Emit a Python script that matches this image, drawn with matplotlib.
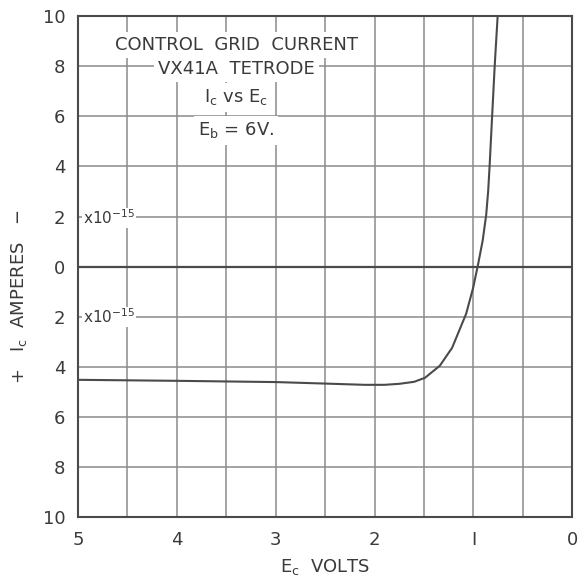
import numpy as np
import matplotlib.pyplot as plt

# grid voltage Ec (volts, axis runs 5 -> 0) and grid current Ic (units of 1e-15 A)
# plotted with "-" current upward, "+" current downward
ec_volts = [5.0, 4.0, 3.0, 2.5, 2.1, 1.9, 1.75, 1.6, 1.49, 1.34, 1.215, 1.073, 1.002, 0.951,
            0.906, 0.870, 0.850, 0.835, 0.810, 0.784, 0.754]
ic_units = [-4.52, -4.56, -4.61, -4.67, -4.72, -4.72, -4.68, -4.6, -4.44, -3.96, -3.24, -1.88,
            -0.84, 0.12, 1.04, 2.08, 3.04, 4.08, 6.04, 8.04, 10.04]

x_ticks = [5, 4, 3, 2, 1, 0]
x_tick_labels = ["5", "4", "3", "2", "I", "0"]
y_ticks = [10, 8, 6, 4, 2, 0, -2, -4, -6, -8, -10]
y_tick_labels = ["10", "8", "6", "4", "2", "0", "2", "4", "6", "8", "10"]

ink = "#3a3a3a"
grid_col = "#8a8a8a"

fig = plt.figure(figsize=(5.78, 5.79), dpi=100)
ax = fig.add_axes([0.135, 0.107, 0.855, 0.865])

ax.set_xlim(5, 0)
ax.set_ylim(-10, 10)

# graph paper grid: every 0.5 V and every 2 units
for xv in np.arange(0.5, 5.0, 0.5):
    ax.axvline(xv, color=grid_col, lw=1.1, zorder=1)
for yv in range(-8, 10, 2):
    if yv != 0:
        ax.axhline(yv, color=grid_col, lw=1.1, zorder=1)
ax.axhline(0, color="#4a4a4a", lw=1.6, zorder=2)

ax.plot(ec_volts, ic_units, color="#4a4a4a", lw=1.5, zorder=3)

for s in ax.spines.values():
    s.set_color("#4a4a4a")
    s.set_linewidth(1.5)
    s.set_zorder(5)

ax.set_xticks(x_ticks)
ax.set_xticklabels(x_tick_labels)
ax.set_yticks(y_ticks)
ax.set_yticklabels(y_tick_labels)
ax.tick_params(axis="both", length=0, labelsize=13, colors=ink)
ax.tick_params(axis="x", pad=10)
ax.tick_params(axis="y", pad=9)

ax.set_xlabel(r"E$_\mathregular{c}$  VOLTS", fontsize=13, color=ink, labelpad=6)
ax.set_ylabel(r"+   I$_\mathregular{c}$  AMPERES   $-$", fontsize=13, color=ink)
ax.yaxis.set_label_coords(-0.1, 0.44)

# multiplier notes next to the "2" labels
for yv in [1.95, -2.0]:
    ax.text(4.95, yv, r"x10$^{\mathregular{-15}}$", fontsize=11, color=ink,
            ha="left", va="center", zorder=4,
            bbox=dict(facecolor="white", edgecolor="none", pad=0.5))

# title block
box = dict(facecolor="white", edgecolor="none", pad=3)
ax.text(3.4, 8.84, "CONTROL  GRID  CURRENT", fontsize=13, color=ink,
        ha="center", va="center", zorder=4, bbox=box)
ax.text(3.4, 7.88, "VX41A  TETRODE", fontsize=13, color=ink,
        ha="center", va="center", zorder=4, bbox=box)
ax.text(3.4, 6.76, r"I$_\mathregular{c}$ vs E$_\mathregular{c}$", fontsize=13, color=ink,
        ha="center", va="center", zorder=4, bbox=box)
ax.text(3.4, 5.44, r"E$_\mathregular{b}$ = 6V.", fontsize=13, color=ink,
        ha="center", va="center", zorder=4, bbox=box)

fig.savefig("out.png", dpi=100, facecolor="white")
